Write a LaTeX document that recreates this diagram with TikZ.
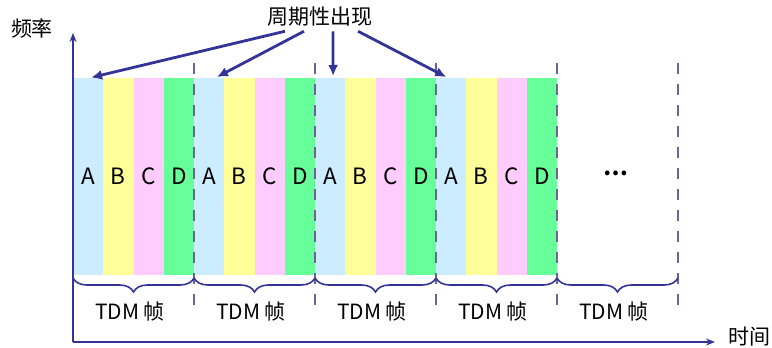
\documentclass[tikz,border=0pt]{standalone}
\usepackage{fontspec}
\setmainfont{Noto Sans CJK SC}
\usetikzlibrary{arrows.meta,decorations.pathreplacing}
\definecolor{slotA}{HTML}{CCECFF}
\definecolor{slotB}{HTML}{FFFF99}
\definecolor{slotC}{HTML}{FFCCFF}
\definecolor{slotD}{HTML}{66FF99}
\definecolor{axisblue}{HTML}{333399}
\definecolor{framegray}{HTML}{666699}
\def\framew{121}
\def\slotw{30.25}

\begin{document}
\begin{tikzpicture}[x=1pt,y=-1pt,font=\fontsize{21}{25}\selectfont,
    slot/.style={minimum width=\slotw pt,minimum height=197pt,inner sep=0pt,outer sep=0pt,anchor=north west,font=\fontsize{22.5}{26}\selectfont},
    frameline/.style={line width=2.8pt,draw=framegray,dash pattern=on 11pt off 10pt},
    axis/.style={line width=2.5pt,draw=axisblue,-{Stealth[length=9pt,width=7pt]}},
    pointer/.style={line width=2.8pt,draw=axisblue,fill=axisblue,-{Latex[length=11pt,width=10pt]},shorten >=2pt},
    brace/.style={draw=axisblue,line width=1.6pt,decorate,decoration={brace,mirror,amplitude=14pt}}]
    \useasboundingbox (0,0) rectangle (772,348);
    % time slots
    \foreach \f in {0,...,3}
        \foreach \s/\c/\t in {0/slotA/A,1/slotB/B,2/slotC/C,3/slotD/D}
            \node[slot,fill=\c] (s-\f-\s) at ({73+\framew*\f+\slotw*\s},78) {\t};
    \node[font=\fontsize{22}{26}\selectfont\bfseries] (more) at (616,173) {…};
    % frame borders
    \foreach \x in {194,315,436,557,678}
        \draw[frameline] (\x,63) -- (\x,305);
    \foreach \f in {0,...,4} {
        \draw[brace] ({73+\framew*\f},278) -- ({194+\framew*\f},278);
        \node (tdm-\f) at ({130+\framew*\f},312) {TDM 帧};
    }
    % axes
    \coordinate (origin) at (73,342);
    \coordinate (ftop) at (73,33);
    \coordinate (tend) at (715,342);
    \draw[axis] (origin) -- (ftop);
    \draw[axis] (origin) -- (tend);
    \node (freq) at (32,28) {频率};
    \node (time) at (749,337) {时间};
    % periodic pointers
    \node (cyc) at (320,17) {周期性出现};
    \foreach \d/\f/\e in {-35/0/1,-16/1/6,13/2/3,38/3/-3}
        \draw[pointer] ([xshift=\d pt,yshift=-1pt]cyc.south) -- ([xshift=\e pt]s-\f-0.north);
\end{tikzpicture}
\end{document}
